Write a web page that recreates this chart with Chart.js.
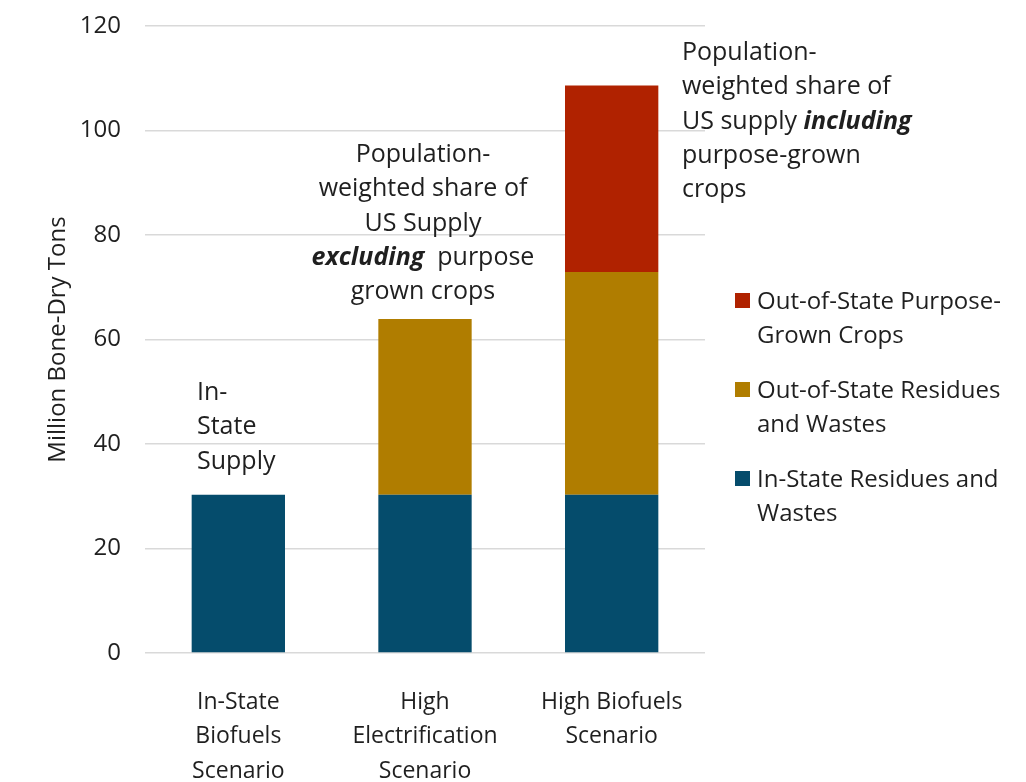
<!DOCTYPE html>
<html>
<head>
<meta charset="utf-8">
<script src="https://cdn.jsdelivr.net/npm/chart.js@4/dist/chart.umd.min.js"></script>
<style>
  html, body { margin: 0; padding: 0; background: #fff; }
  #wrap { width: 1026px; height: 782px; }
</style>
</head>
<body>
<div id="wrap"><canvas id="supplyChart" width="1026" height="782"></canvas></div>
<script>
// chart data
const scenarios = [
    ['In-State', 'Biofuels', 'Scenario'],
    ['High', 'Electrification', 'Scenario'],
    ['High Biofuels', 'Scenario']
];
const inStateResidues = [30.3, 30.3, 30.3];
const outStateResidues = [0, 33.6, 42.6];
const outStateCrops = [0, 0, 35.7];
const yTicks = [0, 20, 40, 60, 80, 100, 120];

const FONT = '"Open Sans", "DejaVu Sans", sans-serif';
const TEXT = '#1f1f1f';

// legend drawn by hand so the labels can wrap like the original
const legendItems = [
    { color: '#b02200', lines: ['Out-of-State Purpose-', 'Grown Crops'] },
    { color: '#b07d00', lines: ['Out-of-State Residues', 'and Wastes'] },
    { color: '#054c6c', lines: ['In-State Residues and', 'Wastes'] }
];

// text notes above the bars: each line is a list of [text, bold-italic?] runs
const notes = [
    { x: 197, y: 393, align: 'left', lines: [[['In-', false]], [['State', false]], [['Supply', false]]] },
    { x: 423, y: 155, align: 'center', lines: [
        [['Population-', false]],
        [['weighted share of', false]],
        [['US Supply', false]],
        [['excluding', true], ['  purpose', false]],
        [['grown crops', false]]
    ] },
    { x: 682, y: 53, align: 'left', lines: [
        [['Population-', false]],
        [['weighted share of', false]],
        [['US supply ', false], ['including', true]],
        [['purpose-grown', false]],
        [['crops', false]]
    ] }
];

const extrasPlugin = {
    id: 'extras',
    afterDraw(chart) {
        const ctx = chart.ctx;
        ctx.save();
        ctx.textBaseline = 'middle';
        ctx.fillStyle = TEXT;

        // notes
        notes.forEach(function(note) {
            note.lines.forEach(function(runs, i) {
                const y = note.y + i * 34.3;
                let widths = runs.map(function(r) {
                    ctx.font = (r[1] ? 'italic bold ' : '') + '25px ' + FONT;
                    return ctx.measureText(r[0]).width;
                });
                const total = widths.reduce(function(a, b) { return a + b; }, 0);
                let x = note.align === 'center' ? note.x - total / 2 : note.x;
                ctx.textAlign = 'left';
                runs.forEach(function(r, k) {
                    ctx.font = (r[1] ? 'italic bold ' : '') + '25px ' + FONT;
                    ctx.fillText(r[0], x, y);
                    x += widths[k];
                });
            });
        });

        // legend
        ctx.font = '24px ' + FONT;
        ctx.textAlign = 'left';
        legendItems.forEach(function(item, i) {
            const y = 302 + i * 89;
            ctx.fillStyle = item.color;
            ctx.fillRect(735, y - 9, 15, 15);
            ctx.fillStyle = TEXT;
            item.lines.forEach(function(line, k) {
                ctx.fillText(line, 757, y + k * 34);
            });
        });
        ctx.restore();
    }
};

function initializeSupplyChart() {
    const supplyCtx = document.getElementById('supplyChart');
    if (!supplyCtx) return;

    const supplyChart = new Chart(supplyCtx.getContext('2d'), {
        type: 'bar',
        data: {
            labels: scenarios,
            datasets: [{
                label: 'In-State Residues and Wastes',
                data: inStateResidues,
                backgroundColor: '#054c6c'
            }, {
                label: 'Out-of-State Residues and Wastes',
                data: outStateResidues,
                backgroundColor: '#b07d00'
            }, {
                label: 'Out-of-State Purpose-Grown Crops',
                data: outStateCrops,
                backgroundColor: '#b02200'
            }]
        },
        options: {
            responsive: false,
            animation: false,
            layout: {
                padding: { top: 26, right: 321, left: 0, bottom: 0 }
            },
            datasets: {
                bar: { categoryPercentage: 0.5, barPercentage: 1.0 }
            },
            plugins: {
                legend: { display: false },
                tooltip: { enabled: false }
            },
            scales: {
                x: {
                    stacked: true,
                    grid: { display: false },
                    border: { display: false },
                    ticks: {
                        color: TEXT,
                        font: { family: FONT, size: 23, lineHeight: 1.5 },
                        padding: 24,
                        maxRotation: 0,
                        autoSkip: false
                    },
                    afterFit: function(axis) { axis.height = 129; }
                },
                y: {
                    stacked: true,
                    min: 0,
                    max: 120,
                    afterBuildTicks: function(axis) {
                        axis.ticks = yTicks.map(function(v) { return { value: v }; });
                    },
                    grid: {
                        color: '#d9d9d9',
                        lineWidth: 1.5,
                        drawTicks: true,
                        tickLength: 24,
                        tickColor: 'rgba(0,0,0,0)'
                    },
                    border: { display: false },
                    ticks: {
                        color: TEXT,
                        font: { family: FONT, size: 24 },
                        padding: 0
                    },
                    title: {
                        display: true,
                        text: 'Million Bone-Dry Tons',
                        color: TEXT,
                        font: { family: FONT, size: 24 },
                        padding: { top: 44, bottom: 0 }
                    },
                    afterFit: function(axis) { axis.width = 145; }
                }
            }
        },
        plugins: [extrasPlugin]
    });
}

initializeSupplyChart();
</script>
</body>
</html>
